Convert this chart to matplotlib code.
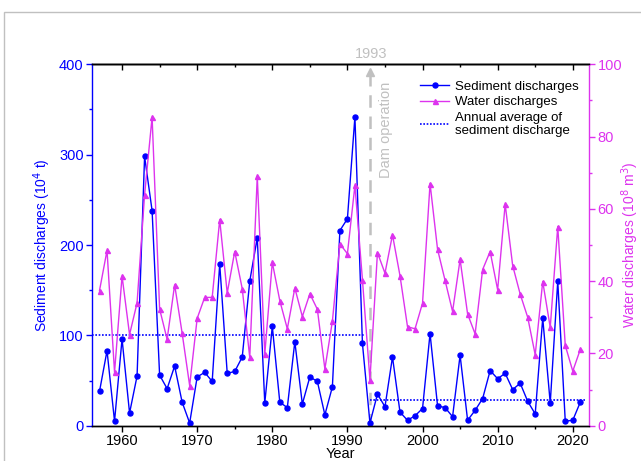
import matplotlib
matplotlib.use("Agg")
import matplotlib.pyplot as plt
from matplotlib.patches import Rectangle
from matplotlib.ticker import MultipleLocator
from matplotlib.lines import Line2D

plt.rcParams["font.family"] = ["Liberation Sans", "DejaVu Sans"]

# Annual series, 1957-2021
years = list(range(1957, 2022))
sediment = [38, 83, 5, 96, 14, 55, 298, 238, 56, 41,
            66, 26, 3, 54, 59, 49, 179, 58, 60, 76,
            160, 208, 25, 110, 26, 20, 93, 24, 54, 49,
            12, 43, 216, 229, 342, 91, 3, 35, 21, 76,
            15, 6, 11, 19, 102, 22, 20, 10, 78, 6,
            17, 30, 61, 52, 58, 40, 47, 27, 13, 119,
            25, 160, 5, 6, 26]
water = [37.4, 48.5, 14.8, 41.4, 25.2, 34.0, 63.9, 85.4, 32.3, 23.9,
         39.0, 25.6, 11.1, 29.7, 35.5, 35.5, 57.0, 36.7, 48.2, 37.9,
         18.9, 69.0, 19.8, 45.2, 34.6, 26.8, 38.1, 30.2, 36.5, 32.2,
         15.7, 28.9, 50.3, 47.6, 66.5, 40.4, 12.7, 47.9, 42.2, 52.8,
         41.5, 27.4, 26.8, 33.9, 67.0, 48.8, 40.2, 31.6, 46.0, 30.9,
         25.4, 43.2, 48.2, 37.6, 61.3, 44.3, 36.4, 30.0, 19.6, 39.9,
         27.2, 55.1, 22.2, 15.1, 21.1]

# average sediment discharge before / after the dam
dam_year = 1993
avg_before = 100
avg_after = 28
avg_before_span = [1956, 1992.4]
avg_after_span = [1993, 2021.7]

BLUE = "#0000FF"
MAGENTA = "#DD33EE"
GRAY = "#C0C0C0"

fig = plt.figure(figsize=(6.41, 4.61), dpi=100)
ax = fig.add_axes([92 / 641, 1 - 425.7 / 461, (589.3 - 92) / 641, (425.7 - 64.3) / 461])
ax2 = ax.twinx()

# outer frame
fig.patches.append(Rectangle((0.0067, -0.1), 1.2, 1.075, transform=fig.transFigure,
                             fill=False, edgecolor=GRAY, lw=1.0))

ax.plot(years, sediment, color=BLUE, lw=1.0, marker="o", ms=3.6, zorder=3)
ax.plot(avg_before_span, [avg_before, avg_before], color=BLUE, lw=1.2, ls=(0, (1, 1)))
ax.plot(avg_after_span, [avg_after, avg_after], color=BLUE, lw=1.2, ls=(0, (1, 1)))
ax2.plot(years, water, color=MAGENTA, lw=1.0, marker="^", ms=3.6, zorder=2)

# dam line with arrow head
ax.plot([dam_year, dam_year], [0, 392], color=GRAY, lw=1.8, ls=(0, (5, 3.5)), zorder=1)
ax.plot([dam_year], [392], color=GRAY, marker="^", ms=6, clip_on=False, zorder=1)
ax.text(dam_year + 0.2, 404, "1993", color=GRAY, fontsize=10.5, ha="center", va="bottom")
ax.text(dam_year + 2.1, 327, "Dam operation", color=GRAY, fontsize=10.5,
        rotation=90, ha="center", va="center")

ax.set_xlim(1956, 2022.2)
ax.set_ylim(0, 400)
ax2.set_ylim(0, 100)

ax.xaxis.set_major_locator(MultipleLocator(10))
ax.xaxis.set_minor_locator(MultipleLocator(5))
ax.yaxis.set_major_locator(MultipleLocator(100))
ax.yaxis.set_minor_locator(MultipleLocator(50))
ax2.yaxis.set_major_locator(MultipleLocator(20))
ax2.yaxis.set_minor_locator(MultipleLocator(10))

ax.tick_params(axis="x", which="major", direction="out", length=4, width=1, labelsize=10.5, pad=2)
ax.tick_params(axis="x", which="minor", direction="out", length=2.5, width=1)
ax.tick_params(axis="y", which="major", direction="out", length=4, width=1,
               colors=BLUE, labelsize=10.5, pad=2)
ax.tick_params(axis="y", which="minor", direction="out", length=2.5, width=1, colors=BLUE)
ax2.tick_params(axis="y", which="major", direction="out", length=4, width=1,
                colors=MAGENTA, labelsize=10.5, pad=2)
ax2.tick_params(axis="y", which="minor", direction="out", length=2.5, width=1, colors=MAGENTA)

top = ax.secondary_xaxis("top")
top.xaxis.set_major_locator(MultipleLocator(10))
top.xaxis.set_minor_locator(MultipleLocator(5))
top.tick_params(which="major", direction="in", length=4, width=1, labeltop=False)
top.tick_params(which="minor", direction="in", length=2.5, width=1)
top.spines["top"].set_linewidth(1.0)

for a in (ax, ax2):
    a.spines["top"].set_color("black")
    a.spines["bottom"].set_color("black")
    a.spines["top"].set_linewidth(1.0)
    a.spines["bottom"].set_linewidth(1.0)
ax.spines["left"].set_color(BLUE)
ax.spines["left"].set_linewidth(1.0)
ax.spines["right"].set_visible(False)
ax2.spines["left"].set_visible(False)
ax2.spines["right"].set_color(MAGENTA)
ax2.spines["right"].set_linewidth(1.0)

ax.set_ylabel("Sediment discharges (10$^{4}$ t)", color=BLUE, fontsize=10, labelpad=4)
ax2.set_ylabel("Water discharges (10$^{8}$ m$^{3}$)", color=MAGENTA, fontsize=10, labelpad=-2)
ax.set_xlabel("Year", fontsize=10.5, labelpad=-0.5)

handles = [
    Line2D([], [], color=BLUE, lw=1.0, marker="o", ms=3.6),
    Line2D([], [], color=MAGENTA, lw=1.0, marker="^", ms=3.6),
    Line2D([], [], color=BLUE, lw=1.2, ls=(0, (1, 1))),
]
labels = ["Sediment discharges", "Water discharges", "Annual average of\nsediment discharge"]
ax2.legend(handles, labels, loc="upper left", bbox_to_anchor=(0.66, 0.955), frameon=False,
           fontsize=9.5, handlelength=2.2, handletextpad=0.4, borderpad=0, borderaxespad=0,
           labelspacing=0.25)

fig.savefig("out.png", dpi=100)
